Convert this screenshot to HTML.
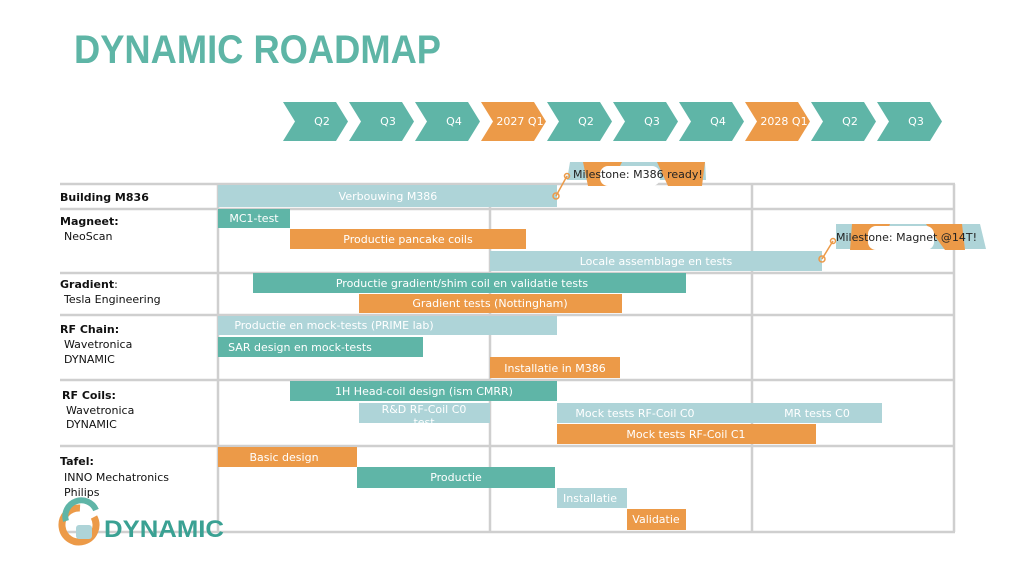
<!DOCTYPE html>
<html><head><meta charset="utf-8"><style>
html,body{margin:0;padding:0;background:#fff;}
svg{display:block;font-family:"DejaVu Sans","Liberation Sans",sans-serif;}
</style></head><body>
<svg width="1024" height="576" viewBox="0 0 1024 576" xmlns="http://www.w3.org/2000/svg">
<text x="74" y="63" font-family="Liberation Sans, sans-serif" font-weight="bold" font-size="40" fill="#5eb5a6" textLength="367" lengthAdjust="spacingAndGlyphs">DYNAMIC ROADMAP</text>
<g font-size="11" fill="#fff" text-anchor="middle">
<polygon points="283,102 336,102 348,121.5 336,141 283,141 295,121.5" fill="#5fb5a7"/><text x="322" y="125">Q2</text>
<polygon points="349,102 402,102 414,121.5 402,141 349,141 361,121.5" fill="#5fb5a7"/><text x="388" y="125">Q3</text>
<polygon points="415,102 468,102 480,121.5 468,141 415,141 427,121.5" fill="#5fb5a7"/><text x="454" y="125">Q4</text>
<polygon points="481,102 534,102 546,121.5 534,141 481,141 493,121.5" fill="#ec9a48"/><text x="520" y="125">2027 Q1</text>
<polygon points="547,102 600,102 612,121.5 600,141 547,141 559,121.5" fill="#5fb5a7"/><text x="586" y="125">Q2</text>
<polygon points="613,102 666,102 678,121.5 666,141 613,141 625,121.5" fill="#5fb5a7"/><text x="652" y="125">Q3</text>
<polygon points="679,102 732,102 744,121.5 732,141 679,141 691,121.5" fill="#5fb5a7"/><text x="718" y="125">Q4</text>
<polygon points="745,102 798,102 810,121.5 798,141 745,141 757,121.5" fill="#ec9a48"/><text x="784" y="125">2028 Q1</text>
<polygon points="811,102 864,102 876,121.5 864,141 811,141 823,121.5" fill="#5fb5a7"/><text x="850" y="125">Q2</text>
<polygon points="877,102 930,102 942,121.5 930,141 877,141 889,121.5" fill="#5fb5a7"/><text x="916" y="125">Q3</text>
</g>
<g stroke="#cfcfcf" stroke-width="2.5" fill="none">
<line x1="60" y1="184" x2="955" y2="184"/>
<line x1="60" y1="209" x2="955" y2="209"/>
<line x1="60" y1="273" x2="955" y2="273"/>
<line x1="60" y1="315" x2="955" y2="315"/>
<line x1="60" y1="380" x2="955" y2="380"/>
<line x1="60" y1="446" x2="955" y2="446"/>
<line x1="60" y1="532" x2="955" y2="532"/>
<line x1="218" y1="184" x2="218" y2="532"/>
<line x1="490" y1="184" x2="490" y2="532"/>
<line x1="752" y1="184" x2="752" y2="532"/>
<line x1="954" y1="184" x2="954" y2="532"/>
</g>
<g font-size="11" fill="#fff" text-anchor="middle">
<rect x="218" y="185" width="339" height="22" fill="#aed4d8"/><text x="388" y="200">Verbouwing M386</text>
<rect x="218" y="209" width="72" height="19" fill="#5fb5a7"/><text x="254" y="222">MC1-test</text>
<rect x="290" y="229" width="236" height="20" fill="#ec9a48"/><text x="408" y="243">Productie pancake coils</text>
<rect x="490" y="251" width="332" height="20" fill="#aed4d8"/><text x="656" y="265">Locale assemblage en tests</text>
<rect x="253" y="273" width="433" height="20" fill="#5fb5a7"/><text x="462" y="287">Productie gradient/shim coil en validatie tests</text>
<rect x="359" y="294" width="263" height="19" fill="#ec9a48"/><text x="490" y="307">Gradient tests (Nottingham)</text>
<rect x="218" y="316" width="339" height="19" fill="#aed4d8"/><text x="334" y="329">Productie en mock-tests (PRIME lab)</text>
<rect x="218" y="337" width="205" height="20" fill="#5fb5a7"/><text x="300" y="351">SAR design en mock-tests</text>
<rect x="490" y="357" width="130" height="21" fill="#ec9a48"/><text x="555" y="372">Installatie in M386</text>
<rect x="290" y="381" width="267" height="20" fill="#5fb5a7"/><text x="424" y="395">1H Head-coil design (ism CMRR)</text>
<rect x="359" y="403" width="131" height="20" fill="#aed4d8"/><text x="424" y="413">R&amp;D RF-Coil C0</text><text x="424" y="426">test</text>
<rect x="557" y="403" width="195" height="20" fill="#aed4d8"/><text x="635" y="417">Mock tests RF-Coil C0</text>
<rect x="752" y="403" width="130" height="20" fill="#aed4d8"/><text x="817" y="417">MR tests C0</text>
<rect x="557" y="424" width="259" height="20" fill="#ec9a48"/><text x="686" y="438">Mock tests RF-Coil C1</text>
<rect x="218" y="447" width="139" height="20" fill="#ec9a48"/><text x="284" y="461">Basic design</text>
<rect x="357" y="467" width="198" height="21" fill="#5fb5a7"/><text x="456" y="481">Productie</text>
<rect x="557" y="488" width="70" height="20" fill="#aed4d8"/><text x="590" y="502">Installatie</text>
<rect x="627" y="509" width="59" height="21" fill="#ec9a48"/><text x="656" y="523">Validatie</text>
</g>
<g font-size="11" fill="#222">
<polygon points="570,162 705,162 706,180 567,180" fill="#aed4d8"/>
<polygon points="583,162 622,162 610,186 588,186" fill="#ec9a48"/>
<polygon points="657,162 705,162 702,186 668,186" fill="#ec9a48"/>
<rect x="600" y="166" width="60" height="20" fill="#fff" rx="8"/>
<text x="573" y="178">Milestone: M386 ready!</text>
<line x1="556" y1="196" x2="567" y2="176" stroke="#ec9a48" stroke-width="1.5"/>
<circle cx="556" cy="196" r="3" fill="none" stroke="#ec9a48" stroke-width="1.5"/>
<circle cx="567" cy="176" r="2.5" fill="none" stroke="#ec9a48" stroke-width="1.5"/>
<polygon points="836,224 980,224 986,249 836,249" fill="#aed4d8"/>
<polygon points="852,224 890,224 880,250 850,250" fill="#ec9a48"/>
<polygon points="926,224 962,224 965,250 945,250" fill="#ec9a48"/>
<rect x="868" y="226" width="66" height="24" fill="#fff" rx="8"/>
<text x="836" y="241">Milestone: Magnet @14T!</text>
<line x1="822" y1="259" x2="833" y2="241" stroke="#ec9a48" stroke-width="1.5"/>
<circle cx="822" cy="259" r="3" fill="none" stroke="#ec9a48" stroke-width="1.5"/>
<circle cx="833" cy="241" r="2.5" fill="none" stroke="#ec9a48" stroke-width="1.5"/>
</g>
<g font-size="11" fill="#111">
<text x="60" y="201" font-weight="bold">Building M836</text>
<text x="60" y="225" font-weight="bold">Magneet:</text><text x="64" y="240">NeoScan</text>
<text x="60" y="288" font-weight="bold">Gradient<tspan font-weight="normal">:</tspan></text><text x="64" y="303">Tesla Engineering</text>
<text x="60" y="333" font-weight="bold">RF Chain:</text><text x="64" y="348">Wavetronica</text><text x="64" y="363">DYNAMIC</text>
<text x="62" y="399" font-weight="bold">RF Coils:</text><text x="66" y="414">Wavetronica</text><text x="66" y="428">DYNAMIC</text>
<text x="60" y="465" font-weight="bold">Tafel:</text><text x="64" y="481">INNO Mechatronics</text><text x="64" y="496">Philips</text>
</g>
<g>
<path d="M94,517 A17,17 0 1 1 80,508" fill="none" stroke="#ec9a48" stroke-width="7"/>
<path d="M66,521 A16,16 0 0 1 96,510" fill="none" stroke="#5fb5a7" stroke-width="6"/>
<rect x="76" y="525" width="16" height="14" fill="#aed4d8" rx="3"/>
<text x="104" y="537" font-family="Liberation Sans, sans-serif" font-weight="bold" font-size="24" fill="#3aa193" textLength="120" lengthAdjust="spacingAndGlyphs">DYNAMIC</text>
</g>
</svg>
</body></html>
